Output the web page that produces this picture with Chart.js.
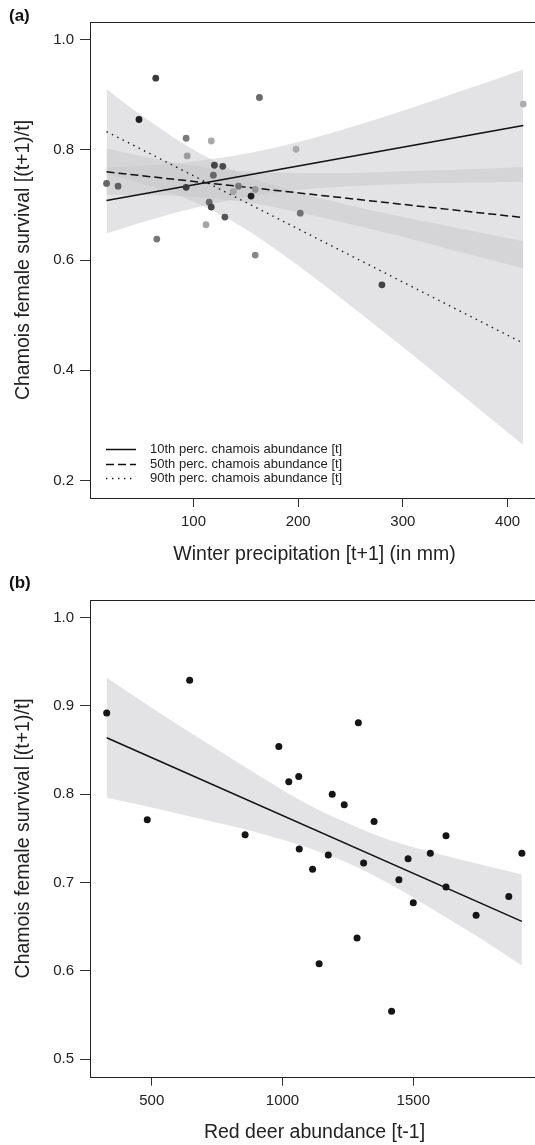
<!DOCTYPE html>
<html><head><meta charset="utf-8">
<script src="https://cdn.jsdelivr.net/npm/chart.js@4.4.1/dist/chart.umd.min.js"></script>
<style>
html,body{margin:0;padding:0;background:#fff;overflow:hidden;width:535px;height:1145px;}
#wrap{position:relative;width:535px;height:1145px;overflow:hidden;background:#fff;}
canvas{position:absolute;left:0;}
#ca{top:0;} #cb{top:560px;}
.tag{position:absolute;left:9px;font:bold 17px "Liberation Sans",Arial,sans-serif;color:#111;line-height:20px;}
</style></head><body>
<div id="wrap">
<canvas id="ca" width="560" height="575"></canvas>
<canvas id="cb" width="560" height="600"></canvas>
<div class="tag" style="top:6px">(a)</div>
<div class="tag" style="top:573px">(b)</div>
</div>
<script>
// ---------- Panel (a) data ----------
const precipA = [64, 163, 48, 93, 117, 94, 120, 128, 119, 17, 28, 93, 143, 159, 138, 155, 115, 117, 130, 202, 198, 112, 65, 159, 415, 280];
const survA   = [0.930, 0.895, 0.855, 0.821, 0.816, 0.789, 0.772, 0.770, 0.754, 0.739, 0.734, 0.732, 0.734, 0.728, 0.724, 0.716, 0.705, 0.696, 0.678, 0.685, 0.801, 0.664, 0.638, 0.609, 0.883, 0.555];
const fitXA   = [17, 415];
const fit10   = [0.708, 0.844];
const fit50   = [0.760, 0.677];
const fit90   = [0.833, 0.449];
const bandXA  = [17, 50, 100, 150, 200, 250, 300, 350, 415];
const lo10    = [0.648, 0.668, 0.694, 0.714, 0.727, 0.734, 0.738, 0.740, 0.742];
const hi10    = [0.768, 0.771, 0.779, 0.793, 0.814, 0.841, 0.871, 0.903, 0.946];
const lo50    = [0.718, 0.718, 0.715, 0.705, 0.687, 0.665, 0.642, 0.617, 0.585];
const hi50    = [0.803, 0.789, 0.771, 0.761, 0.758, 0.758, 0.761, 0.764, 0.769];
const lo90    = [0.756, 0.739, 0.706, 0.656, 0.590, 0.517, 0.442, 0.365, 0.264];
const hi90    = [0.910, 0.863, 0.800, 0.753, 0.723, 0.699, 0.678, 0.659, 0.634];
const xTicksA = [100, 200, 300, 400];
const yTicksA = [0.2, 0.4, 0.6, 0.8, 1.0];
const legendA = ['10th perc. chamois abundance [t]', '50th perc. chamois abundance [t]', '90th perc. chamois abundance [t]'];
const xTitleA = 'Winter precipitation [t+1] (in mm)';
const yTitle  = 'Chamois female survival [(t+1)/t]';

// ---------- Panel (b) data ----------
const deerB  = [328, 483, 645, 857, 986, 1024, 1062, 1064, 1115, 1140, 1175, 1190, 1236, 1290, 1285, 1310, 1350, 1417, 1445, 1480, 1500, 1565, 1625, 1625, 1740, 1865, 1915];
const survB  = [0.892, 0.771, 0.929, 0.754, 0.854, 0.814, 0.820, 0.738, 0.715, 0.608, 0.731, 0.800, 0.788, 0.881, 0.637, 0.722, 0.769, 0.554, 0.703, 0.727, 0.677, 0.733, 0.753, 0.695, 0.663, 0.684, 0.733];
const fitXB  = [328, 1915];
const fitB   = [0.864, 0.656];
const bandXB = [328, 500, 700, 900, 1100, 1250, 1400, 1600, 1750, 1915];
const loB    = [0.796, 0.785, 0.771, 0.757, 0.739, 0.722, 0.700, 0.665, 0.638, 0.606];
const hiB    = [0.932, 0.898, 0.860, 0.823, 0.788, 0.767, 0.749, 0.732, 0.721, 0.709];
const xTicksB = [500, 1000, 1500];
const yTicksB = [0.5, 0.6, 0.7, 0.8, 0.9, 1.0];
const xTitleB = 'Red deer abundance [t-1]';

// ---------- styles ----------
const colorsA = ['#3c3c3c','#6a6a6a','#1e1e1e','#7b7b7b','#a9a9a9','#9a9a9a','#444444','#4b4b4b','#666666','#666666','#606060','#3a3a3a','#777777','#999999','#a5a5a5','#1e1e1e','#666666','#444444','#555555','#717171','#aaaaaa','#a5a5a5','#777777','#888888','#acacac','#444444'];
const FONT = '"Liberation Sans", Arial, Helvetica, sans-serif';
const BAND = 'rgba(199,199,203,0.5)';
const INK = '#222';
const DASH = { solid: [], dashed: [8, 4], dotted: [1.4, 4.6] };

const pts = (xs, ys) => xs.map((x, i) => ({ x: x, y: ys[i] }));
function bandPair(xs, lo, hi) {
  return [
    { type: 'line', data: pts(xs, hi), fill: '+1', backgroundColor: BAND, borderColor: 'rgba(0,0,0,0)', borderWidth: 0, pointRadius: 0, cubicInterpolationMode: 'monotone', order: 3 },
    { type: 'line', data: pts(xs, lo), fill: false, backgroundColor: BAND, borderColor: 'rgba(0,0,0,0)', borderWidth: 0, pointRadius: 0, cubicInterpolationMode: 'monotone', order: 3 }
  ];
}
function fitLine(xs, ys, dash) {
  return { type: 'line', data: pts(xs, ys), borderColor: '#111', borderWidth: dash === DASH.dotted ? 1.4 : 1.5, borderDash: dash, borderCapStyle: 'butt', pointRadius: 0, fill: false, order: 1 };
}

const boxPlugin = {
  id: 'box',
  afterDatasetsDraw(chart) {
    const { ctx, chartArea: a } = chart;
    ctx.save();
    ctx.strokeStyle = INK; ctx.lineWidth = 1;
    ctx.strokeRect(Math.round(a.left) + 0.5, Math.round(a.top) + 0.5, Math.round(a.right - a.left), Math.round(a.bottom - a.top));
    ctx.restore();
  }
};

const legendPlugin = {
  id: 'lgA',
  afterDraw(chart) {
    if (chart.canvas.id !== 'ca') return;
    const ctx = chart.ctx;
    const rows = [449, 464, 478];
    const dashes = [DASH.solid, DASH.dashed, DASH.dotted];
    ctx.save();
    ctx.font = '13px ' + FONT;
    ctx.fillStyle = INK;
    ctx.textBaseline = 'middle';
    legendA.forEach((t, i) => {
      ctx.beginPath();
      ctx.setLineDash(dashes[i]);
      ctx.lineWidth = i === 2 ? 1.4 : 1.5;
      ctx.strokeStyle = '#111';
      ctx.moveTo(106, rows[i] + 0.5); ctx.lineTo(136, rows[i] + 0.5);
      ctx.stroke();
      ctx.setLineDash([]);
      ctx.fillText(t, 150, rows[i]);
    });
    ctx.restore();
  }
};

function makeScales(o) {
  return {
    x: {
      type: 'linear', min: o.xmin, max: o.xmax,
      afterBuildTicks: s => { s.ticks = o.xt.map(v => ({ value: v })); },
      afterFit: s => { s.height = o.xH; },
      grid: { display: true, drawOnChartArea: false, drawTicks: true, tickLength: 9, color: '#333', lineWidth: 1 },
      border: { display: false },
      ticks: { font: { family: FONT, size: 15 }, color: INK, padding: 6, maxRotation: 0, autoSkip: false, callback: v => String(v) },
      title: { display: true, text: o.xtitle, font: { family: FONT, size: 19.5 }, color: INK, padding: { top: 0, bottom: o.xTitlePad } }
    },
    y: {
      type: 'linear', min: o.ymin, max: o.ymax,
      afterBuildTicks: s => { s.ticks = o.yt.map(v => ({ value: v })); },
      afterFit: s => { s.width = 90; },
      grid: { display: true, drawOnChartArea: false, drawTicks: true, tickLength: 10, color: '#333', lineWidth: 1 },
      border: { display: false },
      ticks: { font: { family: FONT, size: 15 }, color: INK, padding: 6, autoSkip: false, callback: v => Number(v).toFixed(1) },
      title: { display: true, text: yTitle, font: { family: FONT, size: 19.5 }, color: INK, padding: { top: 12.3, bottom: 0 } }
    }
  };
}
const common = {
  responsive: false, animation: false, events: [],
  plugins: { legend: { display: false }, tooltip: { enabled: false } }
};

new Chart(document.getElementById('ca'), {
  type: 'scatter',
  data: {
    datasets: [
      { type: 'scatter', data: pts(precipA, survA), pointRadius: 3.4, pointBackgroundColor: colorsA, pointBorderWidth: 0, pointBorderColor: 'rgba(0,0,0,0)', order: 0 },
      fitLine(fitXA, fit10, DASH.solid),
      fitLine(fitXA, fit50, DASH.dashed),
      fitLine(fitXA, fit90, DASH.dotted),
      ...bandPair(bandXA, lo10, hi10),
      ...bandPair(bandXA, lo50, hi50),
      ...bandPair(bandXA, lo90, hi90)
    ]
  },
  options: Object.assign({}, common, {
    layout: { padding: { left: 0, top: 22, right: 21, bottom: 0 } },
    scales: makeScales({ xmin: 1.2, xmax: 430, ymin: 0.168, ymax: 1.032, xt: xTicksA, yt: yTicksA, xtitle: xTitleA, xH: 77, xTitlePad: 8.3 })
  }),
  plugins: [boxPlugin, legendPlugin]
});

new Chart(document.getElementById('cb'), {
  type: 'scatter',
  data: {
    datasets: [
      { type: 'scatter', data: pts(deerB, survB), pointRadius: 3.5, pointBackgroundColor: '#151515', pointBorderWidth: 0, pointBorderColor: 'rgba(0,0,0,0)', order: 0 },
      fitLine(fitXB, fitB, DASH.solid),
      ...bandPair(bandXB, loB, hiB)
    ]
  },
  options: Object.assign({}, common, {
    layout: { padding: { left: 0, top: 40, right: 21, bottom: 0 } },
    scales: makeScales({ xmin: 264.1, xmax: 1980.5, ymin: 0.48, ymax: 1.02, xt: xTicksB, yt: yTicksB, xtitle: xTitleB, xH: 83.3, xTitlePad: 15.3 })
  }),
  plugins: [boxPlugin]
});
</script>
</body></html>
